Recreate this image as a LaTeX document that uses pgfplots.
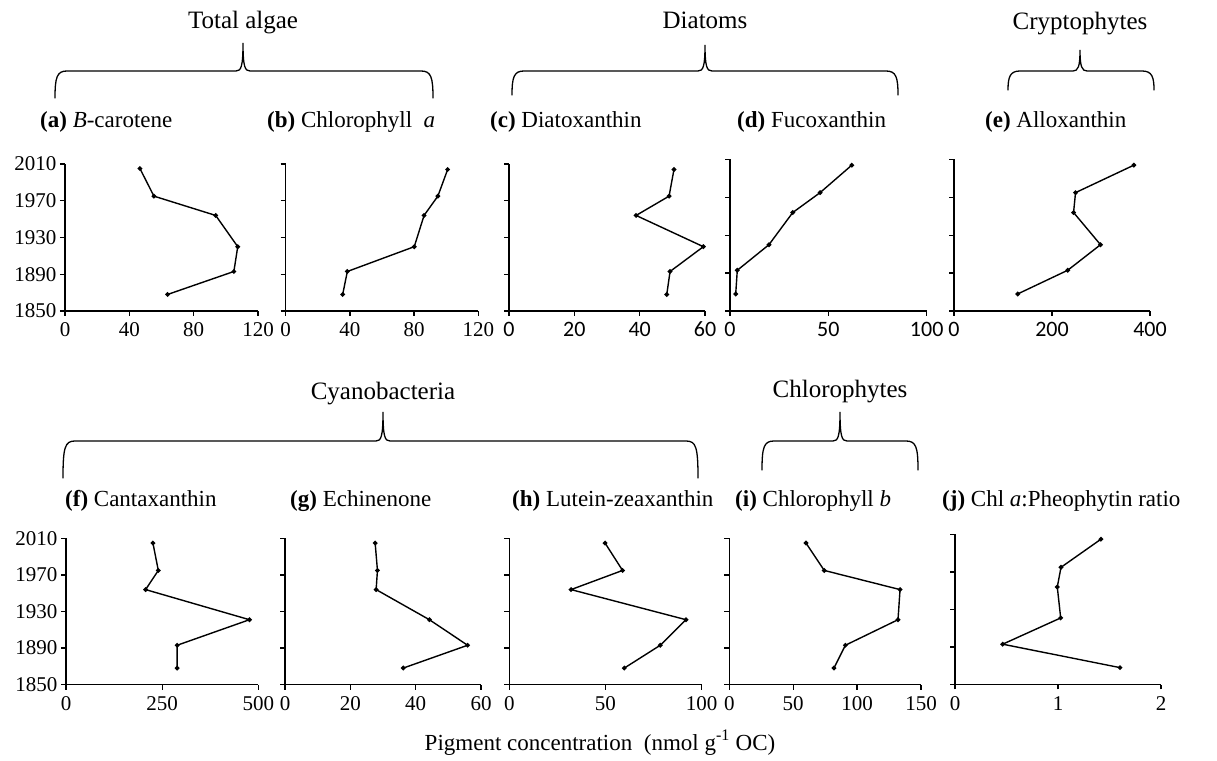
\documentclass[border=0pt]{standalone}
\usepackage{fontspec}
\setmainfont{Liberation Serif}
\newfontfamily\tsans{Carlito}
\usepackage{pgfplots}
\pgfplotsset{compat=1.18}
\pgfplotsset{
 panel/.style={scale only axis, anchor=south west, ymin=1850, ymax=2010,
   ytick={1850,1890,1930,1970,2010}, yticklabels={},
   axis x line*=bottom, axis y line*=left, tick align=outside, major tick length=5pt,
   axis line style={black, line width=1.3pt}, every tick/.style={black,line width=1.3pt},
   /pgf/number format/assume math mode=true, /pgf/number format/1000 sep={},
   tick label style={font=\fontsize{21}{21}\selectfont, black},
   xticklabel style={yshift=-3pt, text height=14pt, text depth=0pt},
   clip=false, enlargelimits=false},
 sanst/.style={xticklabel style={font=\tsans\fontsize{22}{22}\selectfont}},
 series/.style={black, line width=1.4pt, mark=*, mark size=1.6pt, mark options={solid}},
}
\newcommand\grpbrace[6]{%
\draw[line width=1.3pt, line cap=round] (#1,{760-#5}) .. controls (#1,{760-#4-6}) and ({#1+2},{760-#4}) .. ({#1+12},{760-#4}) -- ({#3-7},{760-#4}) .. controls ({#3-2},{760-#4}) and (#3,{760-#4+4}) .. (#3,{760-#6}) .. controls (#3,{760-#4+4}) and ({#3+2},{760-#4}) .. ({#3+7},{760-#4}) -- ({#2-12},{760-#4}) .. controls ({#2-2},{760-#4}) and (#2,{760-#4-6}) .. (#2,{760-#5});}
\begin{document}
\begin{tikzpicture}[x=1pt,y=1pt]
\useasboundingbox (0,0) rectangle (1217,760);
% ---------- top row ----------
\begin{axis}[panel, at={(65pt,449pt)}, width=193pt, height=147pt, xmin=0, xmax=120, xtick={0,40,80,120}, yticklabels={1850,1890,1930,1970,2010}]
\addplot[series] coordinates {(46.6,2005) (55.3,1975) (93.7,1954) (107.4,1920) (105,1893) (63.8,1868)};
\end{axis}
\begin{axis}[panel, at={(285.7pt,449pt)}, width=192.6pt, height=147pt, xmin=0, xmax=120, xtick={0,40,80,120}]
\addplot[series] coordinates {(100.9,2004) (94.8,1975) (86.2,1954) (80.1,1920) (38.4,1893) (35.5,1868)};
\end{axis}
\begin{axis}[panel, sanst, at={(509pt,449pt)}, width=196pt, height=147pt, xmin=0, xmax=60, xtick={0,20,40,60}]
\addplot[series] coordinates {(50.5,2004) (49.0,1975) (38.9,1954) (59.5,1920) (49.3,1893) (48.3,1868)};
\end{axis}
\begin{axis}[panel, sanst, at={(730pt,449pt)}, width=196.7pt, height=151.5pt, xmin=0, xmax=100, xtick={0,50,100}]
\addplot[series] coordinates {(61.9,2004) (45.8,1975) (31.9,1954) (19.8,1920) (3.7,1893) (2.9,1868)};
\end{axis}
\begin{axis}[panel, sanst, at={(954pt,449pt)}, width=196pt, height=151.5pt, xmin=0, xmax=400, xtick={0,200,400}]
\addplot[series] coordinates {(367,2004) (248,1975) (244,1954) (299,1920) (232,1893) (130,1868)};
\end{axis}
% ---------- bottom row ----------
\begin{axis}[panel, at={(66pt,75.5pt)}, width=192.3pt, height=146pt, xmin=0, xmax=500, xtick={0,250,500}, yticklabels={1850,1890,1930,1970,2010}]
\addplot[series] coordinates {(226,2005) (240,1975) (207,1954) (477,1921) (289,1893) (289,1868)};
\end{axis}
\begin{axis}[panel, at={(285pt,75.5pt)}, width=196pt, height=146pt, xmin=0, xmax=60, xtick={0,20,40,60}]
\addplot[series] coordinates {(27.6,2005) (28.3,1975) (27.9,1954) (44.2,1921) (55.9,1893) (36.2,1868)};
\end{axis}
\begin{axis}[panel, at={(509.3pt,75.5pt)}, width=192.3pt, height=146pt, xmin=0, xmax=100, xtick={0,50,100}]
\addplot[series] coordinates {(49.8,2005) (58.9,1975) (32.1,1954) (91.9,1921) (78.5,1893) (59.8,1868)};
\end{axis}
\begin{axis}[panel, at={(729.3pt,75.5pt)}, width=191.7pt, height=146pt, xmin=0, xmax=150, xtick={0,50,100,150}]
\addplot[series] coordinates {(60.0,2005) (74.3,1975) (133.6,1954) (132.0,1921) (90.8,1893) (81.9,1868)};
\end{axis}
\begin{axis}[panel, at={(955pt,75.5pt)}, width=206pt, height=150pt, xmin=0, xmax=2, xtick={0,1,2}]
\addplot[series] coordinates {(1.417,2005) (1.029,1975) (0.993,1954) (1.026,1921) (0.463,1893) (1.602,1868)};
\end{axis}
% ---------- panel labels ----------
\begin{scope}[every node/.style={anchor=base west, inner sep=0pt, font=\fontsize{23}{23}\selectfont}]
\node at (40,632) {\textbf{(a)} \textit{B}-carotene};
\node at (267,632) {\textbf{(b)} Chlorophyll\ \ \textit{a}};
\node at (490,632) {\textbf{(c)} Diatoxanthin};
\node at (737,632) {\textbf{(d)} Fucoxanthin};
\node at (985,632) {\textbf{(e)} Alloxanthin};
\node at (65,253) {\textbf{(f)} Cantaxanthin};
\node at (290,253) {\textbf{(g)} Echinenone};
\node at (512,253) {\textbf{(h)} Lutein-zeaxanthin};
\node at (735,253) {\textbf{(i)} Chlorophyll \textit{b}};
\node at (942,253) {\textbf{(j)} Chl\ \textit{a}:Pheophytin\ ratio};
\end{scope}
% ---------- group titles and braces ----------
\begin{scope}[every node/.style={anchor=base, inner sep=0pt, font=\fontsize{25}{25}\selectfont}]
\node at (243,731) {Total algae};
\node at (705,731) {Diatoms};
\node at (1080,730) {Cryptophytes};
\node at (383,360) {Cyanobacteria};
\node at (840,362) {Chlorophytes};
\end{scope}
\grpbrace{55}{433}{243}{71}{98}{43}
\grpbrace{512}{898}{705}{71}{95}{45}
\grpbrace{1008}{1154}{1080}{71}{90}{50}
\grpbrace{63}{698}{383}{441}{478}{412}
\grpbrace{762}{918}{840}{441}{470}{412}
\node[anchor=base, inner sep=0pt, font=\fontsize{23}{23}\selectfont] at (600,10) {Pigment concentration\ \ (nmol g\textsuperscript{-1} OC)};
\end{tikzpicture}
\end{document}
